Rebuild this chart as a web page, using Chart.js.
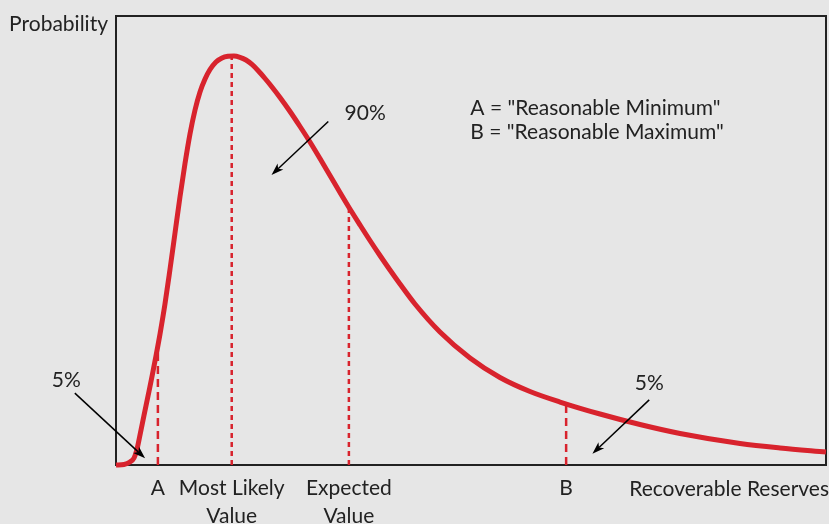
<!DOCTYPE html>
<html>
<head>
<meta charset="utf-8">
<script src="https://cdn.jsdelivr.net/npm/chart.js@4.4.0/dist/chart.umd.min.js"></script>
<style>
  html, body { margin: 0; padding: 0; background: #e6e6e6; }
  #wrap { width: 829px; height: 524px; }
</style>
</head>
<body>
<div id="wrap"><canvas id="myChart"></canvas></div>
<script>
// Probability curve, x = recoverable reserves, y = probability (relative units 0-100)
const reservesX = [0, 1.13, 1.97, 2.54, 2.96, 3.38, 3.94, 4.51, 5.07, 5.63, 6.20, 6.90, 7.61, 8.31,
  9.01, 9.72, 10.42, 11.13, 11.83, 12.54, 13.24, 14.08, 14.93, 15.77, 16.62, 17.46, 18.31, 19.15,
  20.0, 20.99, 21.69, 23.10, 24.51, 25.92, 27.32, 28.73, 30.14, 31.55, 32.82, 34.37, 35.77, 37.18,
  38.59, 40.0, 42.11, 45.63, 49.86, 54.08, 58.31, 62.54, 68.17, 73.80, 79.44, 87.89, 93.52, 100];
const probabilityY = [0, 0.11, 0.67, 1.56, 3.56, 6.68, 11.02, 15.37, 19.71, 24.28, 29.18, 35.86, 43.65, 51.67,
  59.69, 67.15, 73.72, 79.06, 83.07, 85.97, 88.08, 89.76, 90.65, 91.02, 91.09, 90.80, 90.20, 89.20,
  87.86, 86.08, 84.74, 81.85, 78.73, 75.39, 71.94, 68.26, 64.48, 60.69, 57.35, 53.45, 50.0, 46.66,
  43.43, 40.31, 35.86, 29.62, 23.83, 19.49, 16.37, 14.03, 11.36, 9.02, 7.02, 4.79, 3.79, 2.90];

// Marked points on the x axis and the height where each dashed line meets the curve
const markX = [5.9, 16.3, 32.8, 63.4];
const markTop = [26.7, 91.1, 57.4, 14.0];
const markLabels = ['A', ['Most Likely', 'Value'], ['Expected', 'Value'], 'B'];
const markDash = [[8, 5], [5, 4], [5, 4], [8, 5]];

// Percentage call-outs: label position, arrow start, arrow tip (data units)
const calloutText = ['5%', '90%', '5%'];
const calloutLabel = [[-7.0, 18.8], [35.1, 78.4], [75.1, 18.3]];
const calloutFrom = [[-5.8, 16.0], [29.9, 76.5], [75.1, 14.5]];
const calloutTo = [[4.1, 1.5], [21.9, 64.6], [67.1, 2.5]];

const keyLines = ['A = "Reasonable Minimum"', 'B = "Reasonable Maximum"'];
const keyPos = [[49.9, 79.5], [49.9, 74.2]];

const red = '#d8232d';
const ink = '#222222';
const fontFamily = 'Lato, "Open Sans", sans-serif';

const datasets = [{
    data: reservesX.map((x, i) => ({ x: x, y: probabilityY[i] })),
    borderColor: red,
    borderWidth: 5,
    pointRadius: 0,
    cubicInterpolationMode: 'monotone',
    clip: false
}];
markX.forEach((x, i) => {
    datasets.push({
        data: [{ x: x, y: 0 }, { x: x, y: markTop[i] }],
        borderColor: red,
        borderWidth: 2.5,
        borderDash: markDash[i],
        pointRadius: 0,
        tension: 0,
        clip: false
    });
});

function drawArrow(ctx, x1, y1, x2, y2) {
    const ang = Math.atan2(y2 - y1, x2 - x1);
    const head = 13;
    ctx.beginPath();
    ctx.moveTo(x1, y1);
    ctx.lineTo(x2 - Math.cos(ang) * head * 0.7, y2 - Math.sin(ang) * head * 0.7);
    ctx.stroke();
    ctx.beginPath();
    ctx.moveTo(x2, y2);
    ctx.lineTo(x2 - head * Math.cos(ang - 0.33), y2 - head * Math.sin(ang - 0.33));
    ctx.lineTo(x2 - head * 0.7 * Math.cos(ang), y2 - head * 0.7 * Math.sin(ang));
    ctx.lineTo(x2 - head * Math.cos(ang + 0.33), y2 - head * Math.sin(ang + 0.33));
    ctx.closePath();
    ctx.fill();
}

const decorations = {
    id: 'decorations',
    beforeDraw(chart) {
        const ctx = chart.ctx;
        ctx.save();
        ctx.fillStyle = '#e6e6e6';
        ctx.fillRect(0, 0, chart.width, chart.height);
        ctx.restore();
    },
    beforeDatasetsDraw(chart) {
        const ctx = chart.ctx;
        const a = chart.chartArea;
        ctx.save();
        ctx.strokeStyle = ink;
        ctx.lineWidth = 2;
        ctx.strokeRect(a.left, a.top, a.right - a.left, a.bottom - a.top);
        ctx.restore();
    },
    afterDraw(chart) {
        const ctx = chart.ctx;
        const xs = chart.scales.x;
        const ys = chart.scales.y;
        const a = chart.chartArea;
        ctx.save();
        ctx.fillStyle = ink;
        ctx.strokeStyle = '#000';
        ctx.lineWidth = 1.5;
        ctx.font = '21px ' + fontFamily;
        ctx.textBaseline = 'middle';

        // axis captions
        ctx.textAlign = 'right';
        ctx.fillText('Probability', a.left - 8, a.top + 8);
        ctx.fillText('Recoverable Reserves', chart.width, 489);

        // call-outs
        ctx.textAlign = 'center';
        calloutText.forEach((t, i) => {
            ctx.fillText(t, xs.getPixelForValue(calloutLabel[i][0]), ys.getPixelForValue(calloutLabel[i][1]));
            ctx.fillStyle = '#000';
            drawArrow(ctx,
                xs.getPixelForValue(calloutFrom[i][0]), ys.getPixelForValue(calloutFrom[i][1]),
                xs.getPixelForValue(calloutTo[i][0]), ys.getPixelForValue(calloutTo[i][1]));
            ctx.fillStyle = ink;
        });

        // key
        ctx.textAlign = 'left';
        keyLines.forEach((t, i) => {
            ctx.fillText(t, xs.getPixelForValue(keyPos[i][0]), ys.getPixelForValue(keyPos[i][1]));
        });
        ctx.restore();
    }
};

const ctx = document.getElementById('myChart').getContext('2d');
const myChart = new Chart(ctx, {
    type: 'line',
    data: { datasets: datasets },
    options: {
        responsive: true,
        maintainAspectRatio: false,
        animation: false,
        layout: { padding: { left: 116, top: 16, right: 3, bottom: 0 } },
        plugins: { legend: { display: false }, tooltip: { enabled: false } },
        scales: {
            x: {
                type: 'linear',
                min: 0,
                max: 100,
                grid: { display: false, tickLength: 0 },
                border: { display: false },
                afterFit: (scale) => { scale.height = 59; },
                afterBuildTicks: (scale) => { scale.ticks = markX.map(v => ({ value: v })); },
                ticks: {
                    autoSkip: false,
                    maxRotation: 0,
                    padding: 10,
                    color: ink,
                    font: { family: fontFamily, size: 21, lineHeight: 1.3 },
                    callback: (value, index) => markLabels[index]
                }
            },
            y: {
                display: false,
                min: 0,
                max: 100
            }
        }
    },
    plugins: [decorations]
});
</script>
</body>
</html>
